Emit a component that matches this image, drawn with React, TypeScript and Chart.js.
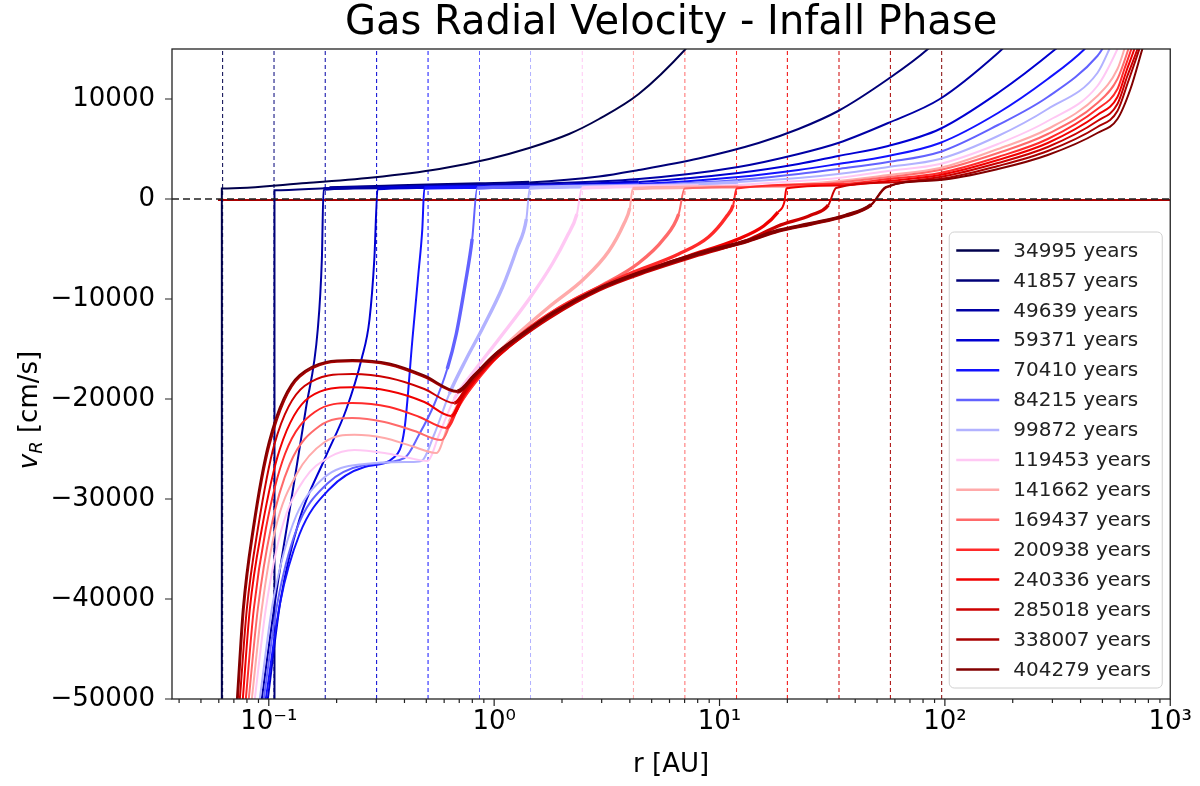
import React, { useEffect, useRef } from 'react';
import Chart from 'chart.js/auto';

// snapshot times (legend) and their colours
const years = [34995, 41857, 49639, 59371, 70410, 84215, 99872, 119453, 141662, 169437, 200938, 240336, 285018, 338007, 404279];
const seriesColors = [
  '#00004c', '#000078', '#0000a5', '#0000d2', '#1212ff', '#6262ff', '#b2b2ff', '#ffc8f4',
  '#ffaaaa', '#ff6a6a', '#ff2a2a', '#f00000', '#cc0000', '#a80000', '#820000',
];

// [r (AU), vR (cm/s)]
const curve34995: [number, number][] = [
  [0.0619, -60000], [0.0619, 1050], [0.147, 1600], [0.289, 2150], [0.571, 3000], [0.950, 4000], [1.43, 5100],
  [2.15, 6500], [2.92, 8000], [4.38, 10500], [7.07, 15000], [9.90, 19000],
];
const curve41857: [number, number][] = [
  [0.106, -60000], [0.106, 870], [0.186, 1100], [0.380, 1300], [0.858, 1500], [1.43, 1650], [2.92, 2250],
  [4.38, 2900], [8.07, 4050], [14.9, 5600], [22.4, 7000], [33.6, 8800], [56.0, 12000], [84.1, 15000], [114, 18000],
];
const curve49639: [number, number][] = [
  [0.0931, -50000], [0.107, -40000], [0.126, -30000], [0.146, -21000], [0.165, -13000], [0.172, -6000],
  [0.175, 1000], [0.310, 1150], [0.632, 1300], [1.43, 1500], [4.38, 2000], [12.1, 3200], [22.4, 4500], [33.6, 5600],
  [56.0, 7600], [95.0, 10000], [172, 14600], [210, 16500],
];
const curve59371: [number, number][] = [
  [0.0990, -50000], [0.113, -40000], [0.137, -32000], [0.177, -26000], [0.221, -21000], [0.258, -16000], [0.280, -12000],
  [0.294, -6000], [0.304, 1050], [0.632, 1200], [1.43, 1300], [4.38, 1700], [12.1, 2600], [22.4, 3500],
  [33.6, 4300], [56.0, 5300], [95.0, 7000], [172, 10600], [310, 15000], [369, 16500],
];
const curve70410: [number, number][] = [
  [0.0970, -50000], [0.112, -40500], [0.137, -33500], [0.186, -29000], [0.266, -26800], [0.361, -25800], [0.400, -23000],
  [0.434, -14000], [0.461, -7500], [0.480, -3000], [0.490, 1100], [1.05, 1200], [4.38, 1500], [12.1, 2200],
  [22.4, 2900], [33.6, 3500], [56.0, 4300], [95.0, 5600], [172, 8600], [286, 12000], [417, 15000], [475, 16500],
];
const curve84215: [number, number][] = [
  [0.0950, -50000], [0.109, -40500], [0.133, -33000], [0.181, -28500], [0.266, -26600], [0.400, -25900], [0.466, -23500],
  [0.543, -20500], [0.619, -17000], [0.679, -13500], [0.744, -8500], [0.799, -4000], [0.841, 1100],
  [1.94, 1250], [4.38, 1400], [12.1, 1900], [22.4, 2500], [33.6, 3000], [56.0, 3700], [95.0, 4700], [172, 7400],
  [286, 10200], [475, 14300], [526, 15800],
];
const curve99872: [number, number][] = [
  [0.0912, -50000], [0.104, -40500], [0.128, -32500], [0.173, -28000], [0.266, -26500], [0.421, -26300], [0.475, -26200],
  [0.543, -23500], [0.632, -19500], [0.752, -16000], [0.885, -13000], [1.09, -8800], [1.26, -5000], [1.39, -2000],
  [1.44, 1100], [4.38, 1300], [12.1, 1700], [22.4, 2100], [33.6, 2500], [56.0, 3200], [95.0, 4000],
  [172, 6300], [286, 9000], [475, 12600], [537, 15000], [583, 17000],
];
const curve119453: [number, number][] = [
  [0.0867, -50000], [0.0970, -41000], [0.114, -33000], [0.144, -28000], [0.186, -25800], [0.240, -25100], [0.326, -25400],
  [0.421, -25900], [0.505, -26200], [0.571, -23500], [0.665, -20000], [0.816, -17200], [1.05, -14000], [1.43, -10000],
  [1.81, -6500], [2.10, -3800], [2.33, -1500], [2.45, 1100], [8.07, 1300], [22.4, 1800], [33.6, 2100],
  [56.0, 2800], [95.0, 3500], [172, 5500], [286, 7800], [475, 11300], [583, 15000], [633, 17000],
];
const curve141662: [number, number][] = [
  [0.0841, -50000], [0.0931, -41000], [0.107, -33000], [0.133, -27500], [0.177, -24300], [0.240, -23570], [0.326, -23900],
  [0.429, -24700], [0.554, -25400], [0.632, -22300], [0.737, -19500], [0.903, -16800], [1.23, -13800], [1.75, -10800],
  [2.50, -8000], [3.23, -5200], [3.76, -2500], [4.00, -900], [4.12, 1050], [12.1, 1200], [33.6, 1800],
  [56.0, 2400], [95.0, 3100], [172, 5000], [286, 7000], [475, 10300], [583, 13000], [626, 15000], [666, 17000],
];
const curve169437: [number, number][] = [
  [0.0815, -50000], [0.0894, -41000], [0.102, -33000], [0.124, -26500], [0.168, -22700], [0.235, -21900], [0.326, -22300],
  [0.443, -23200], [0.583, -24100], [0.665, -21500], [0.775, -19000], [0.950, -16500], [1.29, -13800], [1.94, -10900],
  [2.92, -8800], [4.38, -6400], [5.65, -4000], [6.59, -1500], [7.00, 1050], [18.2, 1250], [33.6, 1650],
  [56.0, 2200], [95.0, 2900], [172, 4600], [286, 6500], [475, 9600], [583, 12000], [652, 15000], [693, 17000],
];
const curve200938: [number, number][] = [
  [0.0791, -50000], [0.0858, -41000], [0.0970, -33000], [0.118, -25500], [0.160, -21300], [0.235, -20400], [0.343, -20800],
  [0.466, -21800], [0.613, -22900], [0.700, -20500], [0.858, -17800], [1.11, -15000], [1.58, -12200], [2.38, -9800],
  [3.96, -7500], [6.59, -5500], [8.94, -3800], [10.7, -1800], [11.5, -600], [11.9, 1050], [33.6, 1500],
  [56.0, 2000], [95.0, 2600], [172, 4200], [286, 6000], [475, 9000], [583, 11000], [626, 13000], [672, 15000], [715, 17000],
];
const curve240336: [number, number][] = [
  [0.0767, -50000], [0.0824, -41000], [0.0931, -33000], [0.112, -25000], [0.152, -19800], [0.235, -18830], [0.343, -19200],
  [0.490, -20300], [0.645, -21700], [0.737, -19500], [0.903, -17000], [1.17, -14700], [1.66, -12100], [2.63, -9500],
  [4.38, -7400], [7.29, -5700], [12.1, -4000], [15.7, -2700], [18.2, -1300], [19.4, -300], [19.8, 1050],
  [33.6, 1350], [56.0, 1800], [95.0, 2400], [172, 3900], [286, 5600], [475, 8400], [583, 10200], [639, 12800],
  [693, 15000], [737, 17000],
];
const curve285018: [number, number][] = [
  [0.0744, -50000], [0.0799, -41000], [0.0894, -33000], [0.106, -24500], [0.144, -18700], [0.235, -17500], [0.343, -17900],
  [0.490, -19000], [0.665, -20400], [0.775, -18500], [0.950, -16300], [1.23, -14300], [1.75, -11900], [2.92, -9100],
  [4.85, -7200], [8.07, -5600], [13.4, -4100], [18.2, -2700], [25.5, -1600], [30.4, -600], [32.9, 1100],
  [56.0, 1650], [95.0, 2200], [172, 3600], [286, 5200], [475, 7800], [583, 9500], [645, 12300], [715, 15000], [760, 17000],
];
const curve338007: [number, number][] = [
  [0.0729, -50000], [0.0775, -41000], [0.0858, -33000], [0.101, -24500], [0.137, -17800], [0.235, -16230], [0.343, -16600],
  [0.490, -17800], [0.686, -19300], [0.816, -17700], [1.00, -15700], [1.29, -13800], [1.84, -11400], [2.92, -9000],
  [4.85, -7100], [8.07, -5500], [13.4, -4200], [18.2, -3200], [25.5, -2500], [36.1, -1700], [47.1, -600],
  [54.8, 1150], [95.0, 2000], [172, 3300], [286, 4800], [475, 7200], [583, 8800], [652, 11800], [729, 15000], [775, 17000],
];
const curve404279: [number, number][] = [
  [0.0722, -50000], [0.0767, -41000], [0.0849, -33000], [0.100, -24300], [0.137, -17600], [0.235, -16100], [0.343, -16450],
  [0.490, -17650], [0.686, -19200], [0.816, -17650], [1.00, -15650], [1.29, -13750], [1.84, -11350], [2.92, -8950],
  [4.85, -7050], [8.07, -5450], [13.4, -4150], [18.2, -3150], [25.5, -2450], [36.1, -1650], [47.1, -550],
  [54.8, 1200], [95.0, 1900], [172, 3000], [286, 4400], [475, 6600], [583, 8000], [666, 11000], [752, 15000], [799, 17000],
];
const curves = [
  curve34995, curve41857, curve49639, curve59371, curve70410, curve84215, curve99872, curve119453,
  curve141662, curve169437, curve200938, curve240336, curve285018, curve338007, curve404279,
];

// radii of the dashed vertical markers, one per snapshot
const dashedR = [0.0624, 0.1055, 0.178, 0.301, 0.509, 0.861, 1.45, 2.46, 4.15, 7.02, 11.9, 20.0, 33.9, 57.3, 96.8];
// the red trace lying on vR = 0
const baseLine: [number, number][] = [[0.0595, -100], [1000, -100]];

const rMin = 0.0372;
const rMax = 1000;
const vMin = -50000;
const vMax = 15000;
const yTicks = [-50000, -40000, -30000, -20000, -10000, 0, 10000];
const xDecades = [0.1, 1, 10, 100, 1000];
const decadeLabels = ['10⁻¹', '10⁰', '10¹', '10²', '10³'];
const xMinor = [
  0.04, 0.05, 0.06, 0.07, 0.08, 0.09, 0.2, 0.3, 0.4, 0.5, 0.6, 0.7, 0.8, 0.9,
  2, 3, 4, 5, 6, 7, 8, 9, 20, 30, 40, 50, 60, 70, 80, 90, 200, 300, 400, 500, 600, 700, 800, 900,
];

const FONT = 'DejaVu Sans';

// noisy parts of the profiles look thicker in the figure
const segWidth = (c: any) => {
  const a = c.p0.parsed;
  const b = c.p1.parsed;
  if (a.x >= 0.6 && b.y < -300 && b.y > a.y) return 3.4;
  if (a.y >= 900 && b.y < 1800 && a.x >= 0.14 && b.x <= 15) return 3.4;
  return 2;
};

const decorPlugin = {
  id: 'decor',
  afterDraw(chart: any) {
    const { ctx, chartArea: a, scales } = chart;
    ctx.save();

    // axes frame
    ctx.strokeStyle = '#222';
    ctx.lineWidth = 1.3;
    ctx.strokeRect(a.left, a.top, a.right - a.left, a.bottom - a.top);

    // tick marks (outward, matplotlib style)
    ctx.lineWidth = 1.2;
    ctx.beginPath();
    xDecades.forEach((v) => {
      const px = scales.x.getPixelForValue(v);
      ctx.moveTo(px, a.bottom);
      ctx.lineTo(px, a.bottom + 7);
    });
    xMinor.forEach((v) => {
      const px = scales.x.getPixelForValue(v);
      ctx.moveTo(px, a.bottom);
      ctx.lineTo(px, a.bottom + 4);
    });
    yTicks.forEach((v) => {
      const py = scales.y.getPixelForValue(v);
      ctx.moveTo(a.left, py);
      ctx.lineTo(a.left - 7, py);
    });
    ctx.stroke();

    // y axis title with subscript
    ctx.save();
    ctx.translate(28, 410);
    ctx.rotate(-Math.PI / 2);
    ctx.fillStyle = '#000';
    ctx.textAlign = 'left';
    ctx.textBaseline = 'alphabetic';
    ctx.font = `italic 26px "${FONT}"`;
    const wv = ctx.measureText('v').width;
    ctx.font = `italic 18px "${FONT}"`;
    const wR = ctx.measureText('R').width;
    ctx.font = `26px "${FONT}"`;
    const wRest = ctx.measureText(' [cm/s]').width;
    let x0 = -(wv + wR + wRest) / 2;
    ctx.font = `italic 26px "${FONT}"`;
    ctx.fillText('v', x0, 9);
    x0 += wv;
    ctx.font = `italic 18px "${FONT}"`;
    ctx.fillText('R', x0, 14);
    x0 += wR;
    ctx.font = `26px "${FONT}"`;
    ctx.fillText(' [cm/s]', x0, 9);
    ctx.restore();

    // legend box, lower right
    const bx = a.right - 221;
    const bw = 213;
    const by = a.bottom - 467;
    const bh = 456;
    ctx.beginPath();
    ctx.roundRect(bx, by, bw, bh, 5);
    ctx.fillStyle = 'rgba(255,255,255,0.85)';
    ctx.fill();
    ctx.strokeStyle = '#d0d0d0';
    ctx.lineWidth = 1;
    ctx.stroke();
    ctx.font = `20px "${FONT}"`;
    ctx.textBaseline = 'middle';
    ctx.textAlign = 'left';
    years.forEach((yr, i) => {
      const ry = by + 18.5 + i * 29.92;
      ctx.strokeStyle = seriesColors[i];
      ctx.lineWidth = 2.5;
      ctx.beginPath();
      ctx.moveTo(bx + 7, ry);
      ctx.lineTo(bx + 50, ry);
      ctx.stroke();
      ctx.fillStyle = '#222';
      ctx.fillText(`${yr} years`, bx + 64, ry + 1);
    });

    ctx.restore();
  },
};

const App: React.FC = () => {
  const canvasRef = useRef<HTMLCanvasElement>(null);
  const chartRef = useRef<Chart | null>(null);

  useEffect(() => {
    if (!canvasRef.current) return;
    if (chartRef.current) chartRef.current.destroy();
    const ctx = canvasRef.current.getContext('2d');
    if (!ctx) return;

    const datasets: any[] = [];
    datasets.push({
      label: 'zero',
      data: [{ x: rMin, y: 0 }, { x: rMax, y: 0 }],
      borderColor: '#222',
      borderWidth: 1.6,
      borderDash: [7, 4],
      pointRadius: 0,
      order: 0,
    });
    datasets.push({
      label: 'base',
      data: baseLine.map(([x, y]) => ({ x, y })),
      borderColor: '#a80000',
      borderWidth: 2.2,
      pointRadius: 0,
      order: 150,
    });
    curves.forEach((c, i) => {
      datasets.push({
        label: `${years[i]} years`,
        data: c.map(([x, y]) => ({ x, y })),
        borderColor: seriesColors[i],
        borderWidth: 2,
        segment: { borderWidth: segWidth },
        pointRadius: 0,
        cubicInterpolationMode: 'monotone',
        order: 100 - i,
      });
    });
    dashedR.forEach((r, i) => {
      datasets.push({
        label: 'rc',
        data: [{ x: r, y: vMin }, { x: r, y: vMax }],
        borderColor: seriesColors[i],
        borderWidth: 1,
        borderDash: [4, 3],
        pointRadius: 0,
        order: 200 + i,
      });
    });

    chartRef.current = new Chart(ctx, {
      type: 'line',
      data: { datasets },
      options: {
        animation: false,
        responsive: true,
        maintainAspectRatio: false,
        events: [],
        layout: { padding: { left: 0, right: 26, top: 0, bottom: 0 } },
        plugins: {
          legend: { display: false },
          tooltip: { enabled: false },
          title: {
            display: true,
            text: 'Gas Radial Velocity - Infall Phase',
            color: '#000',
            fullSize: false,
            font: { family: FONT, size: 40, weight: 'normal', lineHeight: 1.2 },
            padding: { top: 0, bottom: 1 },
          },
        },
        scales: {
          x: {
            type: 'logarithmic',
            min: rMin,
            max: rMax,
            afterBuildTicks: (s: any) => {
              s.ticks = [...xMinor, ...xDecades].sort((p, q) => p - q).map((v) => ({ value: v }));
            },
            afterFit: (s: any) => {
              s.height = 87;
            },
            grid: { display: false, drawTicks: false },
            border: { display: false },
            ticks: {
              autoSkip: false,
              maxRotation: 0,
              minRotation: 0,
              padding: 8,
              color: '#000',
              font: { family: FONT, size: 26 },
              callback: (value: any) => {
                const idx = xDecades.findIndex((d) => Math.abs(Number(value) / d - 1) < 1e-6);
                return idx >= 0 ? decadeLabels[idx] : '';
              },
            },
            title: {
              display: true,
              text: 'r [AU]',
              color: '#000',
              font: { family: FONT, size: 26 },
              padding: { top: 0, bottom: 5 },
            },
          },
          y: {
            type: 'linear',
            min: vMin,
            max: vMax,
            afterBuildTicks: (s: any) => {
              s.ticks = yTicks.map((v) => ({ value: v }));
            },
            afterFit: (s: any) => {
              s.width = 172;
            },
            grid: { display: false, drawTicks: false },
            border: { display: false },
            ticks: {
              padding: 17,
              color: '#000',
              font: { family: FONT, size: 26 },
              callback: (value: any) => {
                const v = Number(value);
                return v < 0 ? `\u2212${Math.abs(v)}` : `${v}`;
              },
            },
          },
        },
      },
      plugins: [decorPlugin],
    } as any);

    return () => {
      if (chartRef.current) {
        chartRef.current.destroy();
        chartRef.current = null;
      }
    };
  }, []);

  return (
    <div style={{ position: 'fixed', left: 0, top: 0, width: 1200, height: 786, background: '#fff' }}>
      <canvas ref={canvasRef}></canvas>
    </div>
  );
};

export default App;
